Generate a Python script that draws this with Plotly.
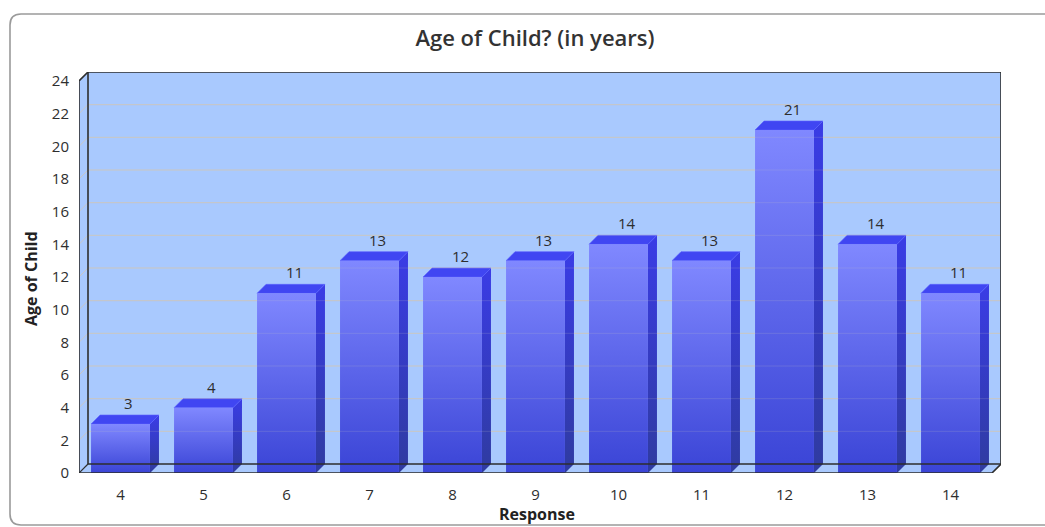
import plotly.graph_objects as go

# ---- data ----
categories = ["4", "5", "6", "7", "8", "9", "10", "11", "12", "13", "14"]
counts = [3, 4, 11, 13, 12, 13, 14, 13, 21, 14, 11]
y_ticks = list(range(0, 25, 2))

title_text = "Age of Child? (in years)"
x_title = "Response"
y_title = "Age of Child"

# ---- geometry of the pseudo-3D frame (pixels) ----
W, H = 1045, 527
L, R, T, B = 79, 44, 72, 54
PX_X = 83.0                 # pixels per category slot
Y_MAX = 24
PX_Y = 392.0 / Y_MAX        # pixels per unit on the value axis
DEPTH = 9                   # depth offset in pixels
DX = DEPTH / PX_X           # depth offset in x-axis units
DY = DEPTH / PX_Y           # depth offset in y-axis units
HALF = 0.355                # half width of a bar front
n = len(categories)
x0, x1 = -0.5, n - 0.5

wall_blue = "#A9C9FE"
grid_col = "#C9C7C4"
edge_col = "#2E2E2E"
text_col = "#2E2E2E"
FONT = "Open Sans"

fig = go.Figure()

# ---- bars: side face, top face, gradient front face ----
for i, v in enumerate(counts):
    xl, xr = i - HALF, i + HALF
    # side face
    fig.add_trace(go.Scatter(
        x=[xr, xr + DX, xr + DX, xr, xr],
        y=[0, DY, v + DY, v, 0],
        fill="toself", mode="lines", line=dict(width=0),
        fillgradient=dict(type="vertical", start=0, stop=v + DY,
                          colorscale=[[0, "#2F3BA0"], [1, "#3A3CE6"]]),
        hoverinfo="skip", showlegend=False))
    # top face
    fig.add_trace(go.Scatter(
        x=[xl, xr, xr + DX, xl + DX, xl],
        y=[v, v, v + DY, v + DY, v],
        fill="toself", mode="lines", line=dict(width=0.6, color="#5A60FF"),
        fillcolor="#4046F2", hoverinfo="skip", showlegend=False))
    # front face
    fig.add_trace(go.Scatter(
        x=[xl, xr, xr, xl, xl],
        y=[0, 0, v, v, 0],
        fill="toself", mode="lines", line=dict(width=0),
        fillgradient=dict(type="vertical", start=0, stop=v,
                          colorscale=[[0, "#3A44D6"], [1, "#8088FF"]]),
        name=categories[i], hovertemplate="%{text}<extra></extra>",
        text=[f"{categories[i]}: {v}"] * 5, showlegend=False))

shapes = []

# walls and floor
shapes.append(dict(type="rect", xref="x", yref="y", layer="below",
                   x0=x0 + DX, x1=x1 + DX, y0=DY, y1=Y_MAX + DY,
                   fillcolor=wall_blue, line=dict(width=0)))
shapes.append(dict(type="path", xref="x", yref="y", layer="below",
                   path=f"M{x0},0 L{x0 + DX},{DY} L{x0 + DX},{Y_MAX + DY} L{x0},{Y_MAX} Z",
                   fillcolor=wall_blue, line=dict(width=0)))
shapes.append(dict(type="path", xref="x", yref="y", layer="below",
                   path=f"M{x0},0 L{x1},0 L{x1 + DX},{DY} L{x0 + DX},{DY} Z",
                   fillcolor=wall_blue, line=dict(width=0)))

# gridlines on the back and left walls
for t in y_ticks[1:-1]:
    for layer, op in (("below", 1.0), ("above", 0.18)):
        shapes.append(dict(type="line", xref="x", yref="y", layer=layer, opacity=op,
                           x0=x0 + DX, x1=x1 + DX, y0=t + DY, y1=t + DY,
                           line=dict(color=grid_col, width=1)))
    shapes.append(dict(type="line", xref="x", yref="y", layer="below",
                       x0=x0, x1=x0 + DX, y0=t, y1=t + DY,
                       line=dict(color=grid_col, width=1)))

# back wall edges
shapes.append(dict(type="path", xref="x", yref="y", layer="above",
                   path=(f"M{x0 + DX},{DY} L{x0 + DX},{Y_MAX + DY} "
                         f"L{x1 + DX},{Y_MAX + DY} L{x1 + DX},{DY} L{x0 + DX},{DY}"),
                   line=dict(color=edge_col, width=1.6)))
# front axis lines with the depth diagonals
shapes.append(dict(type="path", xref="x", yref="y", layer="above",
                   path=(f"M{x0 + DX},{Y_MAX + DY} L{x0},{Y_MAX} L{x0},0 "
                         f"L{x1},0 L{x1 + DX},{DY}"),
                   line=dict(color=edge_col, width=1.6)))
shapes.append(dict(type="line", xref="x", yref="y", layer="above",
                   x0=x0, x1=x0 + DX, y0=0, y1=DY,
                   line=dict(color=edge_col, width=1.2)))

# outer rounded panel frame
def px_to_paper(px, py):
    return (px - L) / (W - L - R), (H - B - py) / (H - T - B)

fl, ft, fr, fb, rad = 10, 14, 1070, 525, 11
pts = [
    ("M", [(fr, ft)]), ("L", [(fl + rad, ft)]), ("Q", [(fl, ft), (fl, ft + rad)]),
    ("L", [(fl, fb - rad)]), ("Q", [(fl, fb), (fl + rad, fb)]), ("L", [(fr, fb)]),
]
path = ""
for cmd, ps in pts:
    path += cmd + " ".join("{:.5f},{:.5f}".format(*px_to_paper(*p)) for p in ps) + " "
shapes.append(dict(type="path", xref="paper", yref="paper", layer="below",
                   path=path.strip(), line=dict(color="#9A9A9A", width=1.6)))

# value labels above bars
annotations = []
for i, v in enumerate(counts):
    annotations.append(dict(x=i + 8 / PX_X, y=v + DY, xref="x", yref="y",
                            text=str(v), showarrow=False, yanchor="bottom",
                            font=dict(family=FONT, size=15, color=text_col)))

# axis titles
ax, ay = px_to_paper(537, 514)
annotations.append(dict(x=ax, y=ay, xref="paper", yref="paper", text=x_title,
                        showarrow=False, xanchor="center", yanchor="middle",
                        font=dict(family=FONT, size=16, color="#222222", weight="bold")))
bx, by = px_to_paper(31, 279)
annotations.append(dict(x=bx, y=by, xref="paper", yref="paper", text=y_title,
                        showarrow=False, textangle=-90, xanchor="center", yanchor="middle",
                        font=dict(family=FONT, size=16, color="#222222", weight="bold")))

fig.update_layout(
    width=W, height=H,
    margin=dict(l=L, r=R, t=T, b=B, pad=0),
    paper_bgcolor="white", plot_bgcolor="rgba(0,0,0,0)",
    title=dict(text=title_text, x=535 / W, xanchor="center", y=1 - 38 / H, yanchor="middle",
               font=dict(family=FONT, size=22, color="#333333", weight=600)),
    shapes=shapes, annotations=annotations,
    xaxis=dict(range=[x0, x1 + DX], tickvals=list(range(n)), ticktext=categories,
               showgrid=False, zeroline=False, showline=False, ticks="",
               ticklabelstandoff=11, fixedrange=True,
               tickfont=dict(family=FONT, size=15, color=text_col)),
    yaxis=dict(range=[0, Y_MAX + DY], tickvals=y_ticks, showgrid=False, zeroline=False,
               showline=False, ticks="", ticklabelstandoff=9, fixedrange=True,
               tickfont=dict(family=FONT, size=15, color=text_col)),
    hovermode="closest",
)

fig.write_html("out.html")
